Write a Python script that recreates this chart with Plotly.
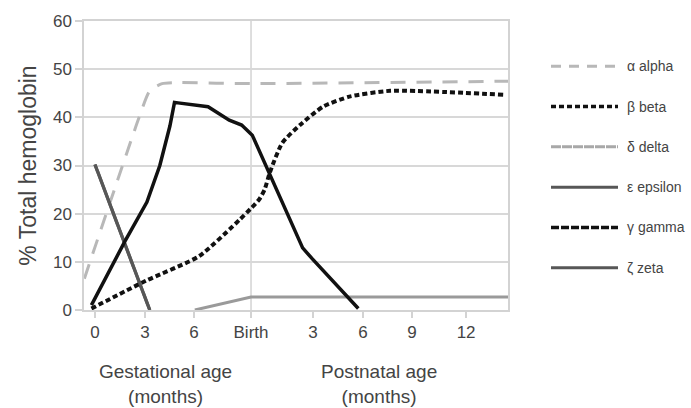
import plotly.graph_objects as go

# x in months from conception (Birth placed at 8.83)
tick_vals = [0, 2.83, 5.6, 8.83, 12.34, 15.17, 17.94, 21]
tick_text = ["0", "3", "6", "Birth", "3", "6", "9", "12"]
birth_x = 8.83

alpha_x = [-0.6, 1.1, 2.5, 3.1, 3.8, 4.5, 8.83, 23.4]
alpha_y = [6.5, 25, 40, 45.5, 47, 47.2, 47, 47.5]

beta_x = [-0.2, 2.9, 5.9, 8.2, 8.8, 9.3, 9.6, 9.9, 10.6, 11.6, 12.9, 14.4, 16.7, 23.1]
beta_y = [0.3, 6.1, 11.2, 18.8, 21, 23, 25, 28.6, 34.7, 38.4, 42.2, 44.3, 45.5, 44.7]

delta_x = [5.65, 8.83, 23.4]
delta_y = [0, 2.7, 2.7]

epsilon_x = [0, 3.1]
epsilon_y = [30.2, 0]

gamma_x = [-0.2, 1.7, 2.94, 3.67, 4.24, 4.5, 4.7, 6.4, 7.6, 8.3, 8.9, 11.3, 11.75, 12.3, 14.9]
gamma_y = [1, 14.3, 22.4, 30, 38.2, 43.1, 43, 42.2, 39.4, 38.4, 36.3, 16.3, 12.9, 10.6, 0.3]

zeta_x = [0, 3.1]
zeta_y = [30.2, 0]

legend_names = ["\u03b1 alpha", "\u03b2 beta", "\u03b4 delta",
                "\u03b5 epsilon", "\u03b3 gamma", "\u03b6 zeta"]
legend_colors = ["#b8b8b8", "#111111", "#a8a8a8", "#575757", "#111111", "#575757"]
legend_dashes = ["10px,8px", "5px,3px", "10px,1px", "solid", "8px,2px", "solid"]

fig = go.Figure()

chart = [
    (delta_x, delta_y, "#9a9a9a", "solid", 3, "linear"),
    (alpha_x, alpha_y, "#b8b8b8", "15px,11px", 3, "spline"),
    (epsilon_x, epsilon_y, "#575757", "solid", 3.2, "linear"),
    (zeta_x, zeta_y, "#575757", "solid", 3.2, "linear"),
    (beta_x, beta_y, "#111111", "5px,3px", 4, "spline"),
    (gamma_x, gamma_y, "#111111", "solid", 3.5, "linear"),
]
for x, y, c, d, w, s in chart:
    fig.add_trace(go.Scatter(x=x, y=y, mode="lines", showlegend=False,
                             line=dict(color=c, width=w, dash=d, shape=s,
                                       smoothing=0.6),
                             hoverinfo="skip"))

fig.add_shape(type="line", xref="x", yref="paper", x0=birth_x, x1=birth_x, y0=0, y1=1,
              line=dict(color="#d3d3d3", width=1.5), layer="below")

# manual legend (paper coords relative to plot area: 424 x 294 px)
pw, ph = 424.0, 294.0
for i, (name, c, d) in enumerate(zip(legend_names, legend_colors, legend_dashes)):
    py = 62 + i * 41.0
    yp = (310 - py) / ph
    fig.add_shape(type="line", xref="paper", yref="paper",
                  x0=(551 - 84) / pw, x1=(618 - 84) / pw, y0=yp, y1=yp,
                  line=dict(color=c, width=3.5 if c == "#111111" else 3, dash=d))
    fig.add_annotation(text=name, xref="paper", yref="paper",
                       x=(625 - 84) / pw, y=yp, xanchor="left", yanchor="middle",
                       showarrow=False, font=dict(size=14, color="#444"))

fig.add_annotation(text="Gestational age<br>(months)", x=4.0, y=-0.168,
                   xref="x", yref="paper", yanchor="top", showarrow=False,
                   font=dict(size=19, color="#444"))
fig.add_annotation(text="Postnatal age<br>(months)", x=16.07, y=-0.168,
                   xref="x", yref="paper", yanchor="top", showarrow=False,
                   font=dict(size=19, color="#444"))

fig.update_layout(
    width=691, height=408,
    margin=dict(l=84, r=183, t=16, b=98),
    paper_bgcolor="white", plot_bgcolor="white",
    showlegend=False,
    font=dict(family="Liberation Sans, Arial", color="#444"),
    xaxis=dict(range=[-0.62, 23.37], tickvals=tick_vals, ticktext=tick_text,
               showgrid=False, zeroline=False, showline=True, mirror=True,
               linecolor="#d3d3d3", linewidth=1.5,
               ticks="outside", ticklen=6, tickcolor="#d3d3d3", tickwidth=1.5,
               tickfont=dict(size=17, color="#444")),
    yaxis=dict(range=[0, 60], dtick=10, showgrid=True, gridcolor="#d8d8d8",
               gridwidth=1.5, zeroline=False, showline=True, mirror=True,
               linecolor="#d3d3d3", linewidth=1.5,
               ticks="outside", ticklen=7, tickcolor="#d3d3d3", tickwidth=1.5,
               tickfont=dict(size=17, color="#444"),
               title=dict(text="% Total hemoglobin", font=dict(size=23, color="#444"),
                          standoff=10)),
)

fig.write_html("out.html")
